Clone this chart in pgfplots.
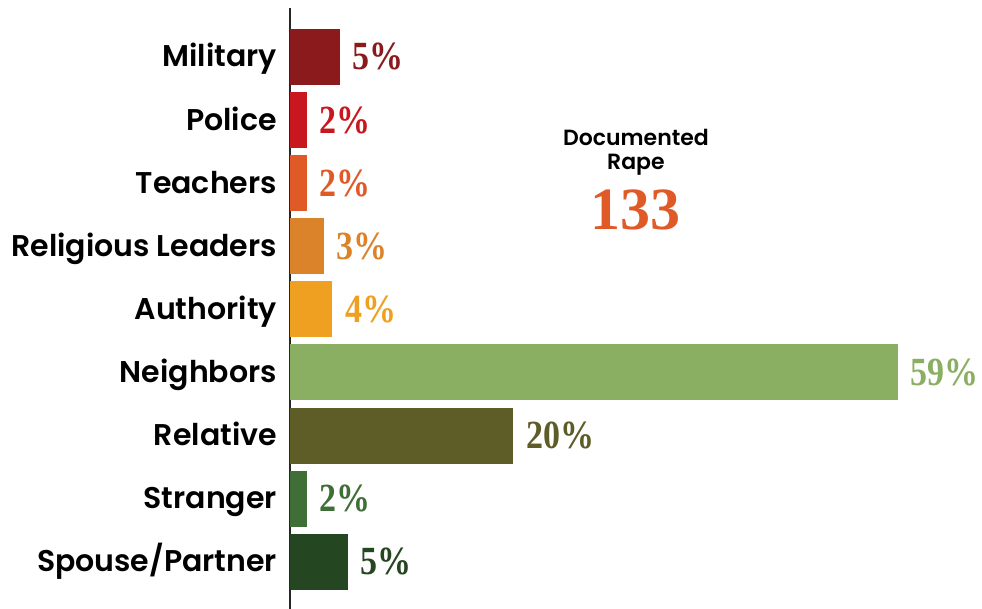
\documentclass[border=0pt]{standalone}
\usepackage{fontspec}
\setmainfont{Poppins}
\newfontfamily\labfont{Poppins SemiBold}
\newfontfamily\valfont{Liberation Serif}[FakeStretch=0.85]
\newfontfamily\numfont{Liberation Serif}
\usepackage{pgfplots}
\pgfplotsset{compat=1.18}
\usetikzlibrary{calc}
\definecolor{cMil}{RGB}{139,26,29}
\definecolor{cPol}{RGB}{200,23,30}
\definecolor{cTea}{RGB}{224,90,40}
\definecolor{cRel}{RGB}{219,131,43}
\definecolor{cAut}{RGB}{240,160,32}
\definecolor{cNei}{RGB}{139,175,98}
\definecolor{cRlt}{RGB}{94,92,39}
\definecolor{cStr}{RGB}{63,110,54}
\definecolor{cSpo}{RGB}{36,70,32}
\begin{document}
\begin{tikzpicture}
\begin{axis}[
  scale only axis, width=345.2pt, height=300.5pt,
  xmin=0, xmax=67, ymin=-0.776, ymax=8.745, y dir=reverse,
  axis x line=none, axis y line*=left,
  y axis line style={black!85, line width=0.75pt},
  ytick={0,...,8},
  yticklabels={Military,Police,Teachers,Religious Leaders,Authority\ ,Neighbors,Relative,Stranger,Spouse/Partner},
  major tick length=0pt,
  yticklabel style={font=\labfont\fontsize{15}{18}\selectfont, text=black, anchor=base east, xshift=-3pt, yshift=-5pt},
  xbar, bar width=28pt, bar shift=0pt,
  nodes near coords, point meta=explicit symbolic,
  nodes near coords style={anchor=base west, font=\valfont\bfseries\fontsize{20}{24}\selectfont, xshift=3pt, yshift=-6.5pt},
  clip=false,
]
\addplot[draw=none, fill=cMil, nodes near coords style={text=cMil}] coordinates {(4.85,0) [5\%]};
\addplot[draw=none, fill=cPol, nodes near coords style={text=cPol}] coordinates {(1.65,1) [2\%]};
\addplot[draw=none, fill=cTea, nodes near coords style={text=cTea}] coordinates {(1.65,2) [2\%]};
\addplot[draw=none, fill=cRel, nodes near coords style={text=cRel}] coordinates {(3.3,3) [3\%]};
\addplot[draw=none, fill=cAut, nodes near coords style={text=cAut}] coordinates {(4.1,4) [4\%]};
\addplot[draw=none, fill=cNei, nodes near coords style={text=cNei}] coordinates {(59,5) [59\%]};
\addplot[draw=none, fill=cRlt, nodes near coords style={text=cRlt}] coordinates {(21.7,6) [20\%]};
\addplot[draw=none, fill=cStr, nodes near coords style={text=cStr}] coordinates {(1.65,7) [2\%]};
\addplot[draw=none, fill=cSpo, nodes near coords style={text=cSpo}] coordinates {(5.6,8) [5\%]};
\node[font=\labfont\fontsize{11}{13}\selectfont] at (axis cs:33.6,1.283) {Documented};
\node[font=\labfont\fontsize{11}{13}\selectfont] at (axis cs:33.6,1.70) {Rape};
\node[font=\numfont\bfseries\fontsize{30}{34}\selectfont, text=cTea] at (axis cs:33.6,2.424) {133};
\coordinate (bl) at (rel axis cs:0,0);
\coordinate (tr) at (rel axis cs:1,1);
\end{axis}
\pgfresetboundingbox
\path let \p1=(bl), \p2=(tr) in (\x1-145pt,\y1) rectangle (\x2+1pt,\y2+4pt);
\end{tikzpicture}
\end{document}
